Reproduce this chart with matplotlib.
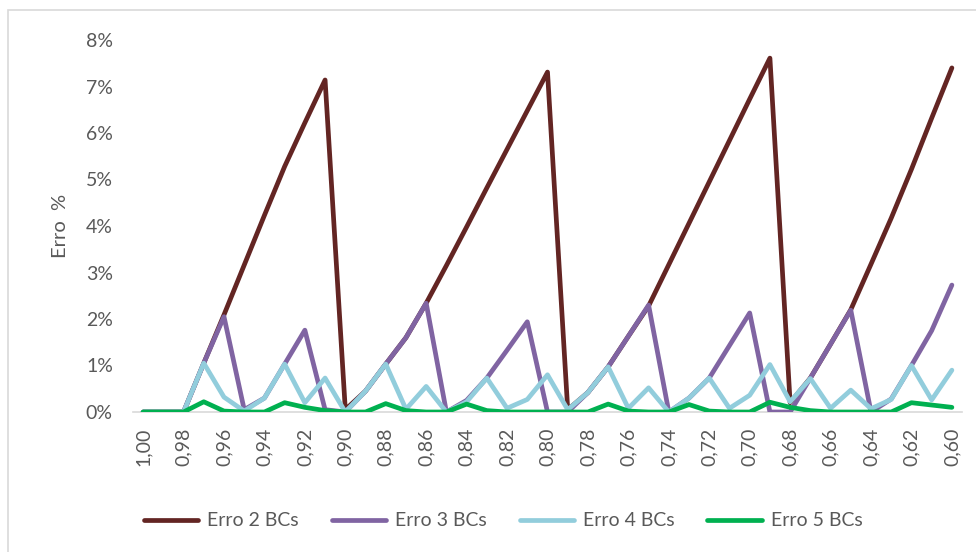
import matplotlib
matplotlib.use("Agg")
import matplotlib.pyplot as plt
from matplotlib.patches import Rectangle
from matplotlib.ticker import FuncFormatter

categories = ["1,00", "0,99", "0,98", "0,97", "0,96", "0,95", "0,94", "0,93", "0,92", "0,91",
              "0,90", "0,89", "0,88", "0,87", "0,86", "0,85", "0,84", "0,83", "0,82", "0,81",
              "0,80", "0,79", "0,78", "0,77", "0,76", "0,75", "0,74", "0,73", "0,72", "0,71",
              "0,70", "0,69", "0,68", "0,67", "0,66", "0,65", "0,64", "0,63", "0,62", "0,61",
              "0,60"]

erro2 = [0, 0, 0, 1.05, 2.09, 3.16, 4.23, 5.28, 6.22, 7.14,
         0.05, 0.45, 1.03, 1.6, 2.34, 3.15, 3.98, 4.82, 5.65, 6.48,
         7.31, 0.05, 0.42, 0.97, 1.63, 2.28, 3.17, 4.06, 4.95, 5.84,
         6.73, 7.61, 0.2, 0.73, 1.46, 2.2, 3.18, 4.17, 5.22, 6.32,
         7.4]
erro3 = [0, 0, 0, 1.05, 2.05, 0.05, 0.3, 1.03, 1.76, 0.05,
         0, 0.45, 1.03, 1.6, 2.34, 0, 0.25, 0.73, 1.33, 1.94,
         0, 0, 0.42, 0.97, 1.63, 2.3, 0, 0.3, 0.73, 1.43,
         2.13, 0, 0, 0.73, 1.46, 2.19, 0, 0.28, 1.0, 1.75,
         2.73]
erro4 = [0, 0, 0, 1.05, 0.32, 0.02, 0.3, 1.03, 0.2, 0.73,
         0, 0.45, 1.03, 0.06, 0.55, 0, 0.22, 0.73, 0.08, 0.27,
         0.8, 0.05, 0.42, 0.97, 0.08, 0.52, 0, 0.3, 0.73, 0.08,
         0.36, 1.02, 0.22, 0.72, 0.08, 0.47, 0.07, 0.27, 1.0, 0.26,
         0.9]
erro5 = [0, 0, 0, 0.22, 0.02, 0, 0, 0.2, 0.1, 0.03,
         0, 0, 0.18, 0.03, 0, 0, 0.17, 0.03, 0, 0,
         0, 0, 0, 0.17, 0.02, 0, 0, 0.16, 0.02, 0,
         0, 0.21, 0.1, 0.03, 0, 0, 0, 0, 0.2, 0.15,
         0.1]

series_names = ["Erro 2 BCs", "Erro 3 BCs", "Erro 4 BCs", "Erro 5 BCs"]
series_colors = ["#632523", "#8064A2", "#92CDDC", "#00B050"]
y_ticks = [0, 1, 2, 3, 4, 5, 6, 7, 8]

plt.rcParams['font.family'] = ['Lato', 'DejaVu Sans']

W, H = 976, 552
fig = plt.figure(figsize=(W / 100, H / 100), dpi=100)
fig.patches.append(Rectangle((8 / W, -0.01), 1.0, (H - 10) / H + 0.01,
                             transform=fig.transFigure, fill=False,
                             edgecolor="#D9D9D9", linewidth=1.2))

ax = fig.add_axes([133 / W, (H - 412) / H, (962 - 133) / W, (412 - 40) / H])
x = list(range(len(categories)))
for vals, name, col in zip([erro2, erro3, erro4, erro5], series_names, series_colors):
    ax.plot(x, vals, color=col, lw=3.4, label=name,
            solid_capstyle='round', solid_joinstyle='round')

ax.set_xlim(-0.5, len(categories) - 0.5)
ax.set_ylim(0, 8)
ax.set_yticks(y_ticks)
ax.yaxis.set_major_formatter(FuncFormatter(lambda v, p: f"{v:.0f}%"))
ax.set_xticks(x[::2])
ax.set_xticklabels(categories[::2], rotation=90, va="top", ha="center")

for s in ["top", "right", "left"]:
    ax.spines[s].set_visible(False)
ax.spines["bottom"].set_color("#D9D9D9")
ax.spines["bottom"].set_linewidth(1.2)
ax.spines["bottom"].set_zorder(0)
ax.tick_params(axis="both", length=0, colors="#595959", labelsize=14)
ax.tick_params(axis="y", pad=14.5)
ax.tick_params(axis="x", pad=11)

ax.set_ylabel("Erro  %", color="#595959", fontsize=14.5, labelpad=12)

leg = fig.legend(loc="center", bbox_to_anchor=(503 / W, (H - 521) / H), ncol=4,
                 frameon=False, fontsize=14, handlelength=2.8,
                 columnspacing=1.7, handletextpad=0.45)
for t in leg.get_texts():
    t.set_color("#595959")

fig.savefig("out.png", dpi=100)
